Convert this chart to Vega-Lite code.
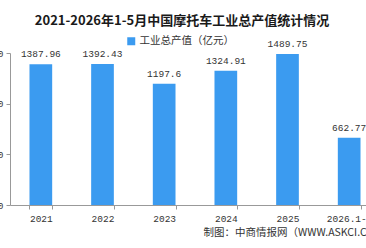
{
  "$schema": "https://vega.github.io/schema/vega-lite/v6.json",
  "autosize": {"type": "none"},
  "width": 356,
  "height": 152,
  "padding": {"left": 10, "top": 53, "right": 0, "bottom": 43},
  "background": "#ffffff",
  "title": {
    "text": "2021-2026年1-5月中国摩托车工业总产值统计情况",
    "font": "Noto Sans CJK SC",
    "fontSize": 13,
    "fontWeight": "bold",
    "color": "#1a1a1a",
    "anchor": "middle",
    "dx": -6,
    "baseline": "middle",
    "offset": 0,
    "dy": -2
  },
  "data": {
    "values": [
      {"year": "2021", "value": 1387.96, "label": "1387.96"},
      {"year": "2022", "value": 1392.43, "label": "1392.43"},
      {"year": "2023", "value": 1197.6, "label": "1197.6"},
      {"year": "2024", "value": 1324.91, "label": "1324.91"},
      {"year": "2025", "value": 1489.75, "label": "1489.75"},
      {"year": "2026.1-5", "value": 662.77, "label": "662.77"}
    ]
  },
  "encoding": {
    "x": {
      "field": "year",
      "type": "nominal",
      "sort": null,
      "scale": {"range": [0, 370], "paddingInner": 0.632, "paddingOuter": 0.316},
      "axis": {
        "title": "制图：中商情报网（WWW.ASKCI.COM）",
        "titleFont": "Noto Sans CJK SC",
        "titleFontSize": 10.5,
        "titleFontWeight": "normal",
        "titleColor": "#333333",
        "titleAlign": "left",
        "titleBaseline": "middle",
        "titleX": 193,
        "titleY": 27.5,
        "labelAngle": 0,
        "labelFont": "Liberation Mono",
        "labelFontSize": 9.5,
        "labelColor": "#333333",
        "labelPadding": 4,
        "labelOverlap": false,
        "tickBand": "extent",
        "tickSize": 4,
        "tickColor": "#999999",
        "domainColor": "#999999",
        "grid": false
      }
    },
    "y": {
      "field": "value",
      "type": "quantitative",
      "scale": {"domain": [0, 1500], "nice": false},
      "axis": {
        "title": null,
        "values": [0, 500, 1000, 1500],
        "labelFont": "Liberation Mono",
        "labelFontSize": 9.5,
        "labelColor": "#333333",
        "labelPadding": 3,
        "tickSize": 4,
        "tickColor": "#999999",
        "domainColor": "#999999",
        "grid": false
      }
    }
  },
  "layer": [
    {
      "mark": {"type": "bar"},
      "encoding": {
        "color": {
          "datum": "工业总产值（亿元）",
          "scale": {"range": ["#3b9bf0"]},
          "legend": {
            "title": null,
            "orient": "none",
            "legendX": 116,
            "legendY": -17,
            "padding": 0,
            "symbolType": "square",
            "symbolSize": 64,
            "symbolStrokeWidth": 0,
            "labelFont": "Noto Sans CJK SC",
            "labelFontSize": 10.5,
            "labelColor": "#333333",
            "labelOffset": 3
          }
        }
      }
    },
    {
      "mark": {
        "type": "text",
        "baseline": "middle",
        "dy": -10,
        "font": "Liberation Mono",
        "fontSize": 9.5,
        "color": "#333333"
      },
      "encoding": {"text": {"field": "label"}}
    }
  ],
  "config": {"view": {"stroke": null}}
}
